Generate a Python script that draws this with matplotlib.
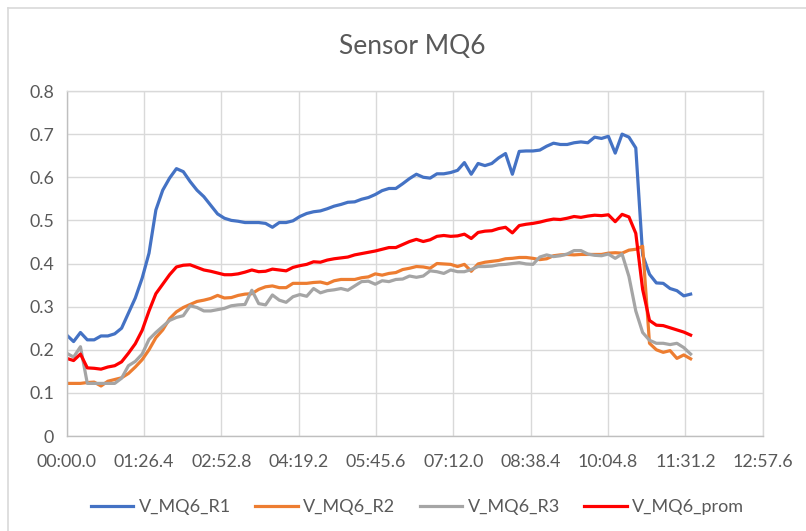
import numpy as np
import matplotlib
matplotlib.use('Agg')
import matplotlib.pyplot as plt
from matplotlib.ticker import FuncFormatter, MultipleLocator
from matplotlib.lines import Line2D

plt.rcParams['font.family'] = ['Lato', 'DejaVu Sans']

# one reading roughly every 7.66 s
sample_period = 7.66

v_r1 = [0.234, 0.219, 0.240, 0.223, 0.223, 0.232, 0.232, 0.237, 0.25, 0.285,
        0.32, 0.366, 0.424, 0.524, 0.57, 0.598, 0.62, 0.613, 0.59, 0.57,
        0.555, 0.535, 0.515, 0.505, 0.50, 0.498, 0.495, 0.495, 0.495, 0.493,
        0.484, 0.495, 0.495, 0.499, 0.509, 0.516, 0.52, 0.522, 0.527, 0.533,
        0.537, 0.542, 0.543, 0.549, 0.553, 0.56, 0.569, 0.574, 0.574, 0.585,
        0.597, 0.607, 0.60, 0.598, 0.608, 0.608, 0.611, 0.616, 0.634, 0.607,
        0.632, 0.627, 0.632, 0.645, 0.655, 0.607, 0.66, 0.661, 0.661, 0.663,
        0.672, 0.679, 0.676, 0.676, 0.68, 0.682, 0.68, 0.693, 0.69, 0.695,
        0.656, 0.70, 0.693, 0.668, 0.42, 0.375, 0.355, 0.354, 0.342, 0.337,
        0.325, 0.329]

v_r2 = [0.122, 0.122, 0.122, 0.124, 0.125, 0.116, 0.127, 0.131, 0.135, 0.145,
        0.16, 0.177, 0.20, 0.228, 0.246, 0.272, 0.288, 0.298, 0.305, 0.312,
        0.315, 0.319, 0.326, 0.32, 0.321, 0.326, 0.329, 0.33, 0.34, 0.346,
        0.348, 0.344, 0.344, 0.354, 0.354, 0.354, 0.356, 0.357, 0.353, 0.36,
        0.363, 0.363, 0.363, 0.367, 0.369, 0.376, 0.373, 0.377, 0.379, 0.386,
        0.389, 0.393, 0.392, 0.389, 0.40, 0.399, 0.398, 0.393, 0.398, 0.382,
        0.399, 0.403, 0.405, 0.407, 0.411, 0.412, 0.414, 0.414, 0.412, 0.409,
        0.411, 0.418, 0.42, 0.421, 0.42, 0.421, 0.421, 0.421, 0.421, 0.424,
        0.425, 0.424, 0.431, 0.433, 0.44, 0.215, 0.20, 0.194, 0.198, 0.18,
        0.188, 0.179]

v_r3 = [0.192, 0.183, 0.207, 0.122, 0.122, 0.122, 0.122, 0.122, 0.134, 0.163,
        0.173, 0.19, 0.224, 0.24, 0.254, 0.268, 0.275, 0.279, 0.302, 0.298,
        0.29, 0.29, 0.293, 0.296, 0.302, 0.304, 0.305, 0.338, 0.307, 0.304,
        0.327, 0.315, 0.31, 0.323, 0.328, 0.324, 0.342, 0.332, 0.337, 0.339,
        0.342, 0.338, 0.348, 0.358, 0.359, 0.352, 0.36, 0.358, 0.363, 0.364,
        0.371, 0.368, 0.371, 0.383, 0.381, 0.377, 0.385, 0.381, 0.381, 0.386,
        0.393, 0.393, 0.394, 0.397, 0.398, 0.40, 0.402, 0.399, 0.398, 0.415,
        0.42, 0.416, 0.418, 0.422, 0.43, 0.43, 0.422, 0.419, 0.418, 0.422,
        0.412, 0.422, 0.37, 0.29, 0.24, 0.222, 0.215, 0.215, 0.212, 0.215,
        0.205, 0.19]

v_prom = [0.18, 0.175, 0.19, 0.158, 0.157, 0.155, 0.16, 0.163, 0.172, 0.192,
          0.214, 0.245, 0.29, 0.33, 0.352, 0.374, 0.392, 0.396, 0.397, 0.391,
          0.385, 0.382, 0.378, 0.374, 0.374, 0.376, 0.38, 0.385, 0.381, 0.382,
          0.387, 0.385, 0.383, 0.391, 0.395, 0.398, 0.404, 0.403, 0.408, 0.411,
          0.413, 0.415, 0.42, 0.423, 0.426, 0.429, 0.433, 0.437, 0.437, 0.444,
          0.451, 0.456, 0.451, 0.455, 0.463, 0.465, 0.463, 0.464, 0.468, 0.458,
          0.472, 0.475, 0.476, 0.481, 0.484, 0.471, 0.488, 0.491, 0.493, 0.496,
          0.50, 0.503, 0.502, 0.505, 0.509, 0.507, 0.51, 0.512, 0.511, 0.513,
          0.497, 0.514, 0.508, 0.47, 0.34, 0.268, 0.257, 0.256, 0.251, 0.246,
          0.241, 0.234]

names = ['V_MQ6_R1', 'V_MQ6_R2', 'V_MQ6_R3', 'V_MQ6_prom']
colors = ['#4472C4', '#ED7D31', '#A5A5A5', '#FF0000']

t = np.arange(len(v_r1)) * sample_period

txt = '#595959'
grid_c = '#D9D9D9'

fig = plt.figure(figsize=(8.06, 5.31), dpi=100)
ax = fig.add_axes([0.0828, 0.1789, 0.8635, 0.6497])

for vals, name, c in zip([v_r1, v_r2, v_r3, v_prom], names, colors):
    ax.plot(t, vals, color=c, lw=2.3, label=name, solid_joinstyle='round')

def mmss(x, pos):
    m = int(x // 60)
    s = x - 60 * m
    return '%02d:%04.1f' % (m, s)

ax.set_xlim(0, 777.6)
ax.set_ylim(0, 0.8)
ax.set_xticks([i * 86.4 for i in range(10)])
ax.xaxis.set_major_formatter(FuncFormatter(mmss))
ax.yaxis.set_major_locator(MultipleLocator(0.1))
ax.yaxis.set_major_formatter(FuncFormatter(lambda v, p: '%g' % round(v, 1)))

ax.grid(True, color=grid_c, lw=1.0)
ax.set_axisbelow(True)
for side in ['top', 'right']:
    ax.spines[side].set_color(grid_c)
for side in ['left', 'bottom']:
    ax.spines[side].set_color('#BFBFBF')
for sp in ax.spines.values():
    sp.set_linewidth(1.0)
ax.tick_params(length=0, colors=txt, labelsize=12.8)
ax.tick_params(axis='x', pad=13)
ax.tick_params(axis='y', pad=9)

fig.text(0.511, 0.912, 'Sensor MQ6', ha='center', va='center', fontsize=19, color=txt)

leg = fig.legend(loc='center', bbox_to_anchor=(0.518, 0.045), ncol=4, frameon=False,
                 fontsize=13, handlelength=2.35, handletextpad=0.3, columnspacing=1.35)
for txt_obj in leg.get_texts():
    txt_obj.set_color(txt)

# chart area border (left and top edges visible in the screenshot)
fig.add_artist(Line2D([8 / 806, 8 / 806], [0, 1 - 8 / 531], color=grid_c, lw=1.2,
                      transform=fig.transFigure))
fig.add_artist(Line2D([8 / 806, 1], [1 - 8 / 531, 1 - 8 / 531], color=grid_c, lw=1.2,
                      transform=fig.transFigure))

fig.savefig('out.png', dpi=100)
